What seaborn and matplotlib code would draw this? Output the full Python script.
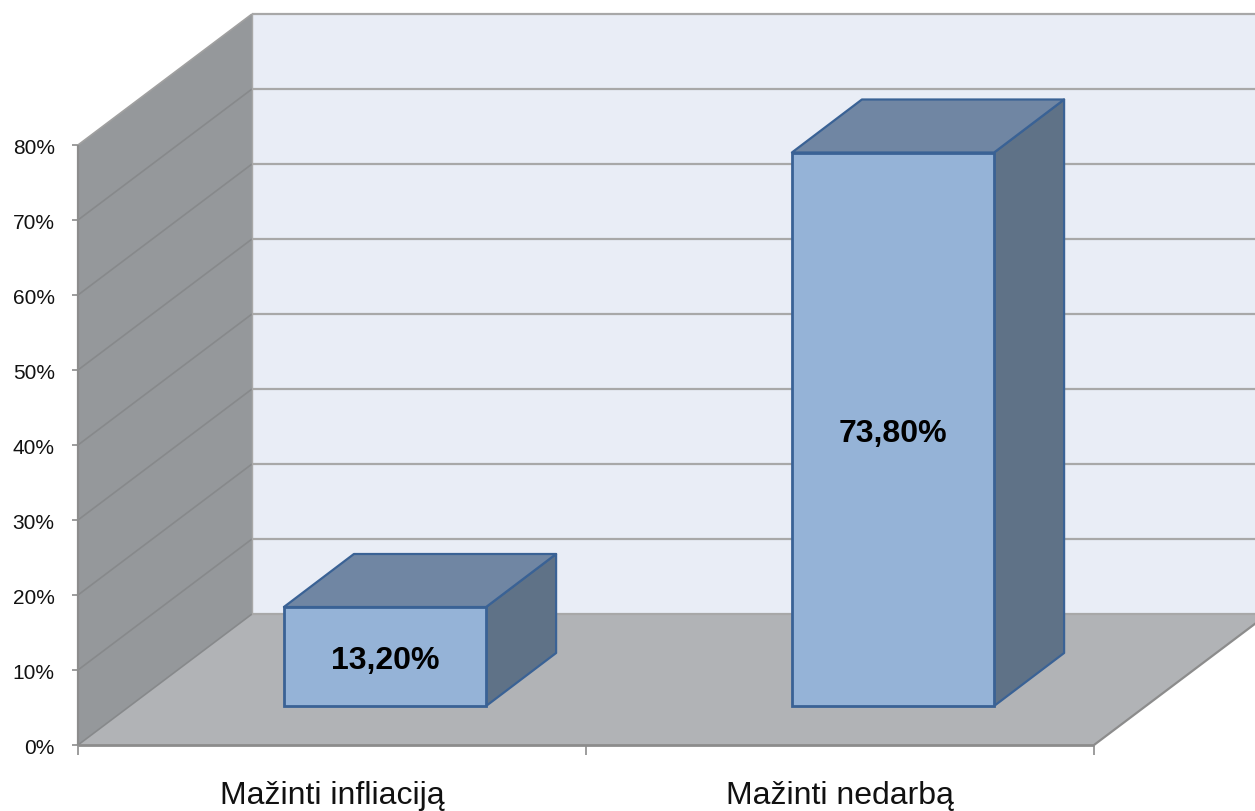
import matplotlib
matplotlib.use('Agg')
import matplotlib.pyplot as plt
import seaborn as sns
import pandas as pd
from matplotlib.transforms import Affine2D, IdentityTransform

# Data
categories = ['Mažinti infliaciją', 'Mažinti nedarbą']
values = [13.2, 73.8]
value_labels = ['13,20%', '73,80%']
y_ticks = [0, 10, 20, 30, 40, 50, 60, 70, 80]
y_tick_labels = ['0%', '10%', '20%', '30%', '40%', '50%', '60%', '70%', '80%']

df = pd.DataFrame({'category': categories, 'value': values})

# Fake 3D depth, in pixels
WALL_DX, WALL_DY = 174, 131
FRONT_DX, FRONT_DY = 53, 39
SIDE_DX, SIDE_DY = 70, 53

WALL = '#95989b'
FLOOR = '#b1b3b6'
BACK = '#e9edf6'
GRID_BACK = '#a8a8a8'
GRID_WALL = '#87898b'
AXIS = '#8c8c8c'
BAR_FRONT = '#95b3d7'
BAR_TOP = '#7086a3'
BAR_SIDE = '#5f7287'
BAR_EDGE = '#3a6295'

sns.set_theme(style='white')
plt.rcParams['font.family'] = ['Liberation Sans', 'DejaVu Sans']

fig = plt.figure(figsize=(12.55, 8.11), dpi=100)
ax = fig.add_axes([78 / 1255, (811 - 745) / 811, 1016 / 1255, 600 / 811])
ax.patch.set_visible(False)

sns.barplot(data=df, x='category', y='value', width=0.398, color=BAR_FRONT,
            saturation=1, ax=ax, zorder=5)
ax.set_xlim(-0.5, 1.5)
ax.set_ylim(0, 80)
ax.set_xlabel('')
ax.set_ylabel('')
for s in ax.spines.values():
    s.set_visible(False)


def px(x, y):
    return ax.transData.transform((x, y))


def poly(points, color, zorder, edge='none', lw=0):
    ax.fill([p[0] for p in points], [p[1] for p in points], facecolor=color,
            edgecolor=edge, linewidth=lw, transform=IdentityTransform(),
            clip_on=False, zorder=zorder, joinstyle='round')


def line(a, b, color, lw, zorder):
    ax.plot([a[0], b[0]], [a[1], b[1]], color=color, lw=lw,
            transform=IdentityTransform(), clip_on=False, zorder=zorder,
            solid_capstyle='butt')


# Walls and floor
x0, x1 = px(-0.5, 0)[0], px(1.5, 0)[0]
y0, y80 = px(0, 0)[1], px(0, 80)[1]
poly([(x0 + WALL_DX, y0 + WALL_DY), (x1 + WALL_DX, y0 + WALL_DY),
      (x1 + WALL_DX, y80 + WALL_DY), (x0 + WALL_DX, y80 + WALL_DY)], BACK, 0.5)
poly([(x0, y0), (x0, y80), (x0 + WALL_DX, y80 + WALL_DY),
      (x0 + WALL_DX, y0 + WALL_DY)], WALL, 0.6)
poly([(x0, y0), (x1, y0), (x1 + WALL_DX, y0 + WALL_DY),
      (x0 + WALL_DX, y0 + WALL_DY)], FLOOR, 0.6)

# Gridlines
for t in y_ticks:
    y = px(0, t)[1]
    line((x0, y), (x0 + WALL_DX, y + WALL_DY), GRID_WALL if t < 80 else '#a0a0a0', 1.2, 1)
    line((x0 + WALL_DX, y + WALL_DY), (x1 + WALL_DX, y + WALL_DY), GRID_BACK, 1.6, 1)

# Axis lines
line((x0, y0), (x1, y0), AXIS, 2, 2)
line((x0, y0), (x0, y80), AXIS, 1.6, 2)
line((x1, y0), (x1 + WALL_DX, y0 + WALL_DY), AXIS, 1.6, 2)
line((x0 + WALL_DX, y0 + WALL_DY), (x0 + WALL_DX, y80 + WALL_DY), '#a8a8a8', 1, 2)

# Bars: front face comes from seaborn, pushed back into the box
shift = ax.transData + Affine2D().translate(FRONT_DX, FRONT_DY)
text_shift = shift + Affine2D().translate(0, -5)
for bar, label in zip(ax.patches, value_labels):
    bar.set_transform(shift)
    bar.set_clip_on(False)
    bar.set_edgecolor(BAR_EDGE)
    bar.set_linewidth(2)
    left, right = bar.get_x(), bar.get_x() + bar.get_width()
    h = bar.get_height()
    rb = shift.transform((right, 0))
    lt = shift.transform((left, h))
    rt = shift.transform((right, h))
    poly([rb, rt, rt + (SIDE_DX, SIDE_DY), rb + (SIDE_DX, SIDE_DY)], BAR_SIDE, 4,
         BAR_EDGE, 1.6)
    poly([lt, rt, rt + (SIDE_DX, SIDE_DY), lt + (SIDE_DX, SIDE_DY)], BAR_TOP, 4,
         BAR_EDGE, 1.6)
    ax.text((left + right) / 2, h / 2, label, transform=text_shift, ha='center', va='center',
            fontsize=23, fontweight='bold', color='black', zorder=6, clip_on=False)

# Ticks
ax.set_yticks(y_ticks)
ax.set_yticklabels(y_tick_labels)
ax.tick_params(axis='y', length=4.3, width=1.2, color=AXIS, pad=12.5, labelsize=15,
               labelcolor='#111111', left=True)
for lbl in ax.get_yticklabels():
    lbl.set_transform(lbl.get_transform() + Affine2D().translate(0, -1.5))
ax.set_xticks([0, 1])
ax.set_xticklabels(categories)
ax.set_xticks([-0.5, 0.5, 1.5], minor=True)
ax.tick_params(axis='x', which='major', length=0, pad=26, labelsize=23, labelcolor='#111111')
ax.tick_params(axis='x', which='minor', length=7, width=1.2, color=AXIS, bottom=True)

fig.savefig('out.png', dpi=100, facecolor='white')
